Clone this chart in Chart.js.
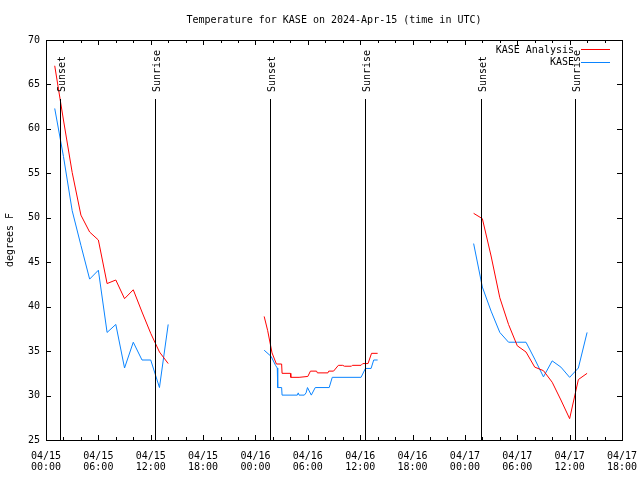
<!DOCTYPE html>
<html lang="en">
<head>
  <meta charset="UTF-8">
  <title>Temperature for KASE</title>
  <script src="https://cdn.jsdelivr.net/npm/chart.js"></script>
  <style>
    body {
      margin: 0;
      padding: 0;
      background-color: #FFFFFF;
    }
    canvas {
      display: block;
    }
  </style>
</head>
<body>
  <canvas id="tempChart" width="640" height="480"></canvas>

  <script>
    // hours since 2024-04-15 00:00 UTC, null temp = gap between nights
    const analysisTime = [1, 2, 3, 4, 5, 6, 7, 8, 9, 10, 11, 12, 13, 14,
      19,
      25.0, 25.4, 25.9, 26.4, 27.0, 27.05, 28.0, 28.05, 29.0, 30.0, 30.3, 31.0, 31.1, 32.3, 32.4,
      32.95, 33.5, 34.0, 34.2, 35.0, 35.1, 36.1, 36.3, 36.9, 37.3, 38.0,
      43,
      49, 50, 51, 52, 53, 54, 55, 56, 57, 58, 59, 60, 61, 62];
    const analysisTemp = [67.1, 61.0, 55.1, 50.3, 48.4, 47.5, 42.6, 43.0, 40.9, 41.9, 39.4, 37.0, 34.9, 33.6,
      null,
      38.9, 37.3, 34.8, 33.55, 33.55, 32.5, 32.5, 32.05, 32.05, 32.15, 32.75, 32.75, 32.55, 32.55, 32.75,
      32.75, 33.4, 33.4, 33.3, 33.3, 33.4, 33.4, 33.6, 33.6, 34.75, 34.75,
      null,
      50.5, 49.9, 45.7, 41.0, 38.0, 35.6, 34.9, 33.2, 32.8, 31.5, 29.5, 27.4, 31.8, 32.5];

    const obsTime = [1, 2, 3, 4, 5, 6, 7, 8, 9, 10, 11, 12, 13, 14,
      19,
      25.0, 25.8, 26.3, 26.5, 26.55, 27.0, 27.05, 28.8, 28.9, 29.0, 29.6, 29.8, 29.96, 30.4, 30.85,
      32.45, 32.8, 36.1, 36.6, 37.25, 37.55, 38.0,
      43,
      49, 50, 51, 52, 53, 54, 55, 56, 57, 58, 59, 60, 61, 62];
    const obsTemp = [62.3, 56.9, 50.8, 46.9, 43.1, 44.1, 37.1, 38.0, 33.1, 36.0, 34.0, 34.0, 30.9, 38.0,
      null,
      35.1, 34.4, 33.4, 33.1, 30.9, 30.9, 30.05, 30.05, 30.3, 30.05, 30.05, 30.3, 30.9, 30.05, 30.9,
      30.9, 32.05, 32.05, 33.05, 33.05, 34.0, 34.0,
      null,
      47.1, 42.2, 39.5, 37.1, 36.0, 36.0, 36.0, 34.1, 32.1, 33.9, 33.2, 32.05, 33.1, 37.1];

    const sunsetTime = [1.62, 25.72, 49.82];
    const sunriseTime = [12.53, 36.59, 60.61];
    const sunLineTop = 63.4;

    const dateLabels = ['04/15\n00:00', '04/15\n06:00', '04/15\n12:00', '04/15\n18:00',
      '04/16\n00:00', '04/16\n06:00', '04/16\n12:00', '04/16\n18:00',
      '04/17\n00:00', '04/17\n06:00', '04/17\n12:00', '04/17\n18:00'];

    const FONT = "'DejaVu Sans Mono', monospace";

    function toPoints(times, temps) {
      return times.map((t, i) => ({ x: t, y: temps[i] }));
    }

    const gnuplotLook = {
      id: 'gnuplotLook',
      afterDatasetsDraw(chart) {
        const ctx = chart.ctx;
        const a = chart.chartArea;
        const xs = chart.scales.x, ys = chart.scales.y;
        ctx.save();
        ctx.strokeStyle = '#000';
        ctx.lineWidth = 1;

        // ticks pointing inward
        ctx.beginPath();
        for (let h = 0; h <= 66; h += 2) {
          const px = Math.round(xs.getPixelForValue(h)) + 0.5;
          const len = h % 6 === 0 ? 5 : 3;
          ctx.moveTo(px, a.bottom); ctx.lineTo(px, a.bottom - len);
          ctx.moveTo(px, a.top); ctx.lineTo(px, a.top + len);
        }
        for (let v = 25; v <= 70; v += 5) {
          const py = Math.round(ys.getPixelForValue(v)) + 0.5;
          ctx.moveTo(a.left, py); ctx.lineTo(a.left + 5, py);
          ctx.moveTo(a.right, py); ctx.lineTo(a.right - 5, py);
        }
        ctx.stroke();

        // sunset / sunrise lines
        const topPx = Math.round(ys.getPixelForValue(sunLineTop));
        ctx.beginPath();
        sunsetTime.concat(sunriseTime).forEach(t => {
          const px = Math.round(xs.getPixelForValue(t)) + 0.5;
          ctx.moveTo(px, ys.getPixelForValue(25));
          ctx.lineTo(px, topPx);
        });
        ctx.stroke();

        // border
        ctx.strokeRect(Math.round(a.left) + 0.5, Math.round(a.top) + 0.5,
          Math.round(a.right - a.left), Math.round(a.bottom - a.top));

        ctx.fillStyle = '#000';
        ctx.font = '10px ' + FONT;

        // sunset / sunrise labels
        const labelBottom = topPx - 7;
        const drawSun = (t, txt) => {
          ctx.save();
          ctx.translate(Math.round(xs.getPixelForValue(t)) + 2, labelBottom);
          ctx.rotate(-Math.PI / 2);
          ctx.textAlign = 'left';
          ctx.textBaseline = 'middle';
          ctx.fillText(txt, 0, 0);
          ctx.restore();
        };
        sunsetTime.forEach(t => drawSun(t, 'Sunset'));
        sunriseTime.forEach(t => drawSun(t, 'Sunrise'));

        // title
        ctx.textAlign = 'center';
        ctx.textBaseline = 'middle';
        ctx.fillText('Temperature for KASE on 2024-Apr-15 (time in UTC)', (a.left + a.right) / 2, 20);

        // y axis label
        ctx.save();
        ctx.translate(10, (a.top + a.bottom) / 2);
        ctx.rotate(-Math.PI / 2);
        ctx.fillText('degrees F', 0, 0);
        ctx.restore();

        // legend
        ctx.textAlign = 'right';
        chart.data.datasets.forEach((ds, i) => {
          const y = 50 + i * 12.5;
          ctx.fillText(ds.label, 574, y);
          ctx.strokeStyle = ds.borderColor;
          ctx.beginPath();
          ctx.moveTo(581, Math.round(y) - 0.5);
          ctx.lineTo(610, Math.round(y) - 0.5);
          ctx.stroke();
        });
        ctx.restore();
      }
    };

    new Chart(document.getElementById('tempChart'), {
      type: 'line',
      data: {
        datasets: [
          { label: 'KASE Analysis', data: toPoints(analysisTime, analysisTemp), borderColor: '#FF0000', borderWidth: 1 },
          { label: 'KASE', data: toPoints(obsTime, obsTemp), borderColor: '#0A84FF', borderWidth: 1 }
        ]
      },
      options: {
        responsive: false,
        animation: false,
        devicePixelRatio: 1,
        layout: { padding: { top: 40, right: 18, left: 0, bottom: 0 } },
        elements: { point: { radius: 0 }, line: { tension: 0 } },
        spanGaps: false,
        plugins: { legend: { display: false }, tooltip: { enabled: false } },
        scales: {
          x: {
            type: 'linear',
            min: 0,
            max: 66,
            grid: { display: false, drawTicks: false },
            border: { display: false },
            afterFit: s => { s.height = 40; s.paddingLeft = 0; s.paddingRight = 0; },
            ticks: {
              stepSize: 6,
              autoSkip: false,
              maxRotation: 0,
              padding: 11,
              color: '#000',
              font: { family: FONT, size: 10, lineHeight: 1.1 },
              callback: v => dateLabels[Math.round(v / 6)].split('\n')
            }
          },
          y: {
            min: 25,
            max: 70,
            grid: { display: false, drawTicks: false },
            border: { display: false },
            afterFit: s => { s.width = 46; s.paddingTop = 0; s.paddingBottom = 0; },
            ticks: {
              stepSize: 5,
              padding: 6,
              color: '#000',
              font: { family: FONT, size: 10 }
            }
          }
        }
      },
      plugins: [gnuplotLook]
    });
  </script>
</body>
</html>
